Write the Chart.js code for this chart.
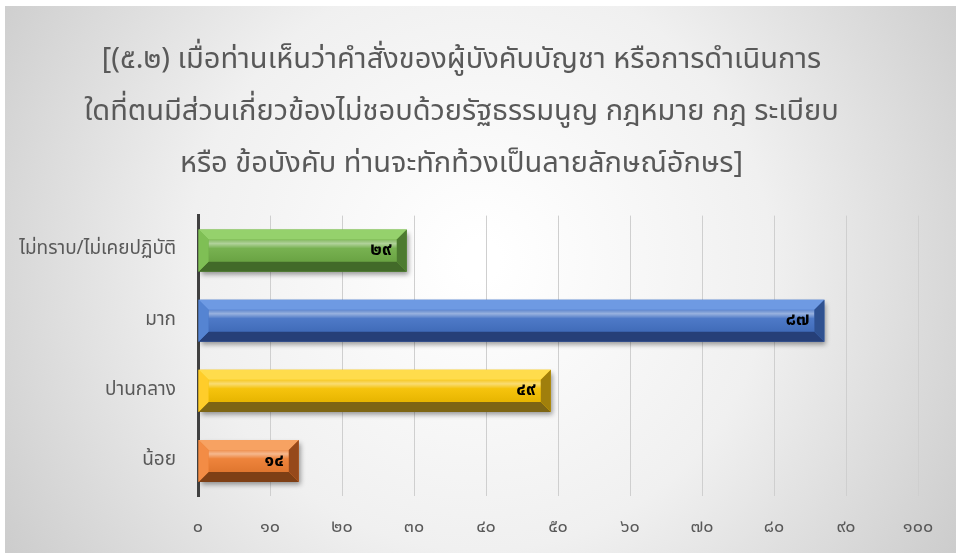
<!DOCTYPE html>
<html>
<head>
<meta charset="utf-8">
<script src="https://cdn.jsdelivr.net/npm/chart.js@4"></script>
<style>
  html, body { margin: 0; padding: 0; background: #fff; }
  #wrap { width: 956px; height: 553px; }
</style>
</head>
<body>
<div id="wrap"><canvas id="barChart"></canvas></div>
<script>
// data
var categories = ["ไม่ทราบ/ไม่เคยปฏิบัติ", "มาก", "ปานกลาง", "น้อย"];
var values = [29, 87, 49, 14];
var titleLines = [
  "[(๕.๒) เมื่อท่านเห็นว่าคำสั่งของผู้บังคับบัญชา หรือการดำเนินการ",
  "ใดที่ตนมีส่วนเกี่ยวข้องไม่ชอบด้วยรัฐธรรมนูญ กฎหมาย กฎ ระเบียบ",
  "หรือ ข้อบังคับ ท่านจะทักท้วงเป็นลายลักษณ์อักษร]"
];
var xMin = 0, xMax = 100, xStep = 10;

// colours for each bar: main, top bevel, bottom bevel, right end, left end
var barColors = [
  ["#70ad47", "#95d16c", "#426a29", "#4d7b30", "#7fbf55"],
  ["#4472c4", "#6e9ae3", "#263f78", "#2f5190", "#5584d2"],
  ["#f5c000", "#ffdc4c", "#7d6514", "#a07f0c", "#ffcd2a"],
  ["#ed7d31", "#f7a262", "#7e3f15", "#96491b", "#f38c45"]
];

var fontFam = "'Noto Sans Thai', 'Noto Sans', 'Loma', 'Garuda', sans-serif";

function thaiDigits(n) {
  return String(n).replace(/\d/g, function (d) { return "๐๑๒๓๔๕๖๗๘๙"[d]; });
}

// grey radial background behind everything
var bgPlugin = {
  id: "bg",
  beforeDraw: function (chart) {
    var ctx = chart.ctx;
    ctx.save();
    var g = ctx.createRadialGradient(480, 260, 20, 480, 260, 620);
    g.addColorStop(0, "#ffffff");
    g.addColorStop(0.45, "#f0f0f0");
    g.addColorStop(1, "#c4c4c4");
    ctx.fillStyle = g;
    ctx.fillRect(5, 6, chart.width - 5, chart.height - 6);
    ctx.restore();
  }
};

// soft shadow under bars, then bevel on top of them
var bevelPlugin = {
  id: "bevel",
  beforeDatasetsDraw: function (chart) {
    var ctx = chart.ctx;
    ctx.save();
    ctx.shadowColor = "rgba(0,0,0,0.4)";
    ctx.shadowBlur = 5;
    ctx.shadowOffsetX = 2;
    ctx.shadowOffsetY = 3;
  },
  afterDatasetsDraw: function (chart) {
    var ctx = chart.ctx;
    ctx.restore();
    var meta = chart.getDatasetMeta(0);
    meta.data.forEach(function (bar, i) {
      var p = bar.getProps(["x", "y", "base", "height"], true);
      var l = p.base, r = p.x, t = p.y - p.height / 2, b = p.y + p.height / 2;
      var s = 10;
      var c = barColors[i];
      function poly(pts, col) {
        ctx.beginPath();
        ctx.moveTo(pts[0][0], pts[0][1]);
        for (var k = 1; k < pts.length; k++) ctx.lineTo(pts[k][0], pts[k][1]);
        ctx.closePath();
        ctx.fillStyle = col;
        ctx.fill();
      }
      ctx.save();
      // face highlight
      var g = ctx.createLinearGradient(0, t + s, 0, b - s);
      g.addColorStop(0, "rgba(255,255,255,0.15)");
      g.addColorStop(0.18, "rgba(255,255,255,0.45)");
      g.addColorStop(0.4, "rgba(255,255,255,0.05)");
      g.addColorStop(1, "rgba(0,0,0,0.06)");
      ctx.fillStyle = g;
      ctx.fillRect(l + s, t + s, r - l - 2 * s, b - t - 2 * s);
      poly([[l, t], [r, t], [r - s, t + s], [l + s, t + s]], c[1]);
      poly([[l, b], [r, b], [r - s, b - s], [l + s, b - s]], c[2]);
      poly([[r, t], [r, b], [r - s, b - s], [r - s, t + s]], c[3]);
      poly([[l, t], [l, b], [l + s, b - s], [l + s, t + s]], c[4]);
      // value label inside the end
      ctx.fillStyle = "#000";
      ctx.font = "bold 18px " + fontFam;
      ctx.textAlign = "right";
      ctx.textBaseline = "middle";
      ctx.fillText(thaiDigits(values[i]), r - 15, p.y + 1);
      ctx.restore();
    });
  }
};

var canvasElement = document.getElementById("barChart");
var config = {
  type: "bar",
  data: {
    labels: categories,
    datasets: [
      {
        data: values,
        backgroundColor: barColors.map(function (c) { return c[0]; }),
        borderWidth: 0,
        barPercentage: 0.6,
        categoryPercentage: 1
      }
    ]
  },
  options: {
    indexAxis: "y",
    responsive: false,
    animation: false,
    devicePixelRatio: 1,
    layout: { padding: { top: 36, left: 5, right: 38, bottom: 0 } },
    plugins: {
      legend: { display: false },
      tooltip: { enabled: false },
      title: {
        display: true,
        text: titleLines,
        color: "#595959",
        font: { family: fontFam, size: 29, weight: "normal", lineHeight: 1.8 },
        padding: { top: 0, bottom: 23 }
      }
    },
    scales: {
      x: {
        min: xMin,
        max: xMax,
        ticks: {
          stepSize: xStep,
          color: "#595959",
          padding: 22,
          font: { family: fontFam, size: 18 },
          callback: function (v) { return thaiDigits(v); }
        },
        grid: { color: "#cfcfcf", lineWidth: 1, drawTicks: false },
        border: { display: false },
        afterFit: function (s) { s.height = 57; }
      },
      y: {
        ticks: {
          color: "#595959",
          padding: 14,
          font: { family: fontFam, size: 19 }
        },
        grid: { display: false },
        border: { display: true, color: "#404040", width: 3 },
        afterFit: function (s) { s.width = 193; }
      }
    }
  },
  plugins: [bgPlugin, bevelPlugin]
};
canvasElement.width = 956;
canvasElement.height = 553;
var barChart = new Chart(canvasElement, config);
</script>
</body>
</html>
